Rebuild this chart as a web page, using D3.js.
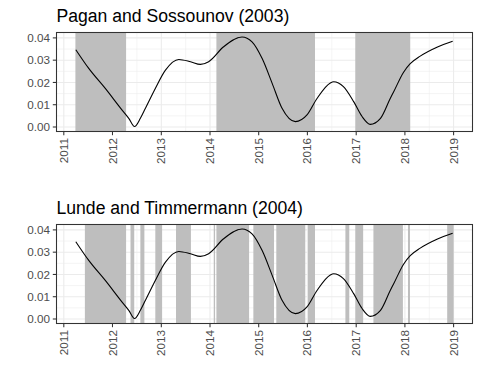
<!DOCTYPE html>
<html>
<head>
<meta charset="utf-8">
<script src="https://cdn.jsdelivr.net/npm/d3@7"></script>
<style>
  body { margin: 0; background: #fff; }
  text { font-family: "Liberation Sans", Arial, sans-serif; }
</style>
</head>
<body>
<div id="chart"></div>
<script>
// series
const lineDates = [
  "2011-04-01", "2011-07-07", "2011-11-08", "2012-03-13", "2012-05-02", "2012-06-14",
  "2012-07-28", "2012-09-04", "2012-11-17", "2013-02-01", "2013-05-12", "2013-08-08",
  "2013-10-21", "2013-12-22", "2014-04-13", "2014-08-29", "2014-11-12", "2015-01-27",
  "2015-04-12", "2015-06-25", "2015-10-03", "2015-12-29", "2016-03-13", "2016-06-21",
  "2016-07-16", "2016-09-27", "2016-12-13", "2017-02-14", "2017-04-16", "2017-07-02",
  "2017-09-13", "2017-10-08", "2017-12-22", "2018-02-10", "2018-04-26", "2018-08-29",
  "2018-12-25"
];
const lineValues = [
  0.0347, 0.0263, 0.0173, 0.0076, 0.0039, 0.0002,
  0.0039, 0.0084, 0.0173, 0.0255, 0.0303, 0.0293,
  0.0281, 0.0293, 0.0360, 0.0404, 0.0382, 0.0307,
  0.0196, 0.0084, 0.0024, 0.0054, 0.0128, 0.0198,
  0.0203, 0.0181, 0.0114, 0.0047, 0.0012, 0.0039,
  0.0128, 0.0157, 0.0246, 0.0284, 0.0318, 0.0358,
  0.0385
];

// shaded periods (start, end)
const paganStarts = ["2011-03-29", "2014-02-18", "2016-12-25"];
const paganEnds   = ["2012-04-12", "2016-02-27", "2018-02-10"];

const lundeStarts = [
  "2011-06-08", "2012-05-15", "2012-07-28", "2012-11-17", "2013-04-21",
  "2014-01-29", "2014-02-18", "2014-11-22", "2015-05-13", "2016-01-05",
  "2016-10-12", "2016-12-25", "2017-05-10", "2018-01-24", "2018-11-14"
];
const lundeEnds = [
  "2012-04-12", "2012-06-12", "2012-08-27", "2013-01-07", "2013-08-11",
  "2014-02-08", "2014-10-21", "2015-04-26", "2015-12-16", "2016-02-27",
  "2016-11-10", "2017-02-22", "2017-12-17", "2018-02-08", "2019-01-01"
];

const yearTicks = ["2011", "2012", "2013", "2014", "2015", "2016", "2017", "2018", "2019"];
const yTicks = [0, 0.01, 0.02, 0.03, 0.04];
const yMinor = [0.005, 0.015, 0.025, 0.035];
const titles = ["Pagan and Sossounov (2003)", "Lunde and Timmermann (2004)"];

const W = 480, H = 384;
const left = 56.5, right = 472.5, panelH = 99;
const panelTops = [32.5, 224.5];
const tickLen = 3.7, gap = 2.9;

const parseDate = d3.timeParse("%Y-%m-%d");
const parseYear = d3.timeParse("%Y");

const line = lineDates.map((d, i) => ({ date: parseDate(d), value: lineValues[i] }));
const shadeSets = [
  paganStarts.map((s, i) => ({ start: parseDate(s), end: parseDate(paganEnds[i]) })),
  lundeStarts.map((s, i) => ({ start: parseDate(s), end: parseDate(lundeEnds[i]) }))
];

// shared x domain, ggplot style 5% expansion
let allDates = line.map(d => d.date);
shadeSets.forEach(set => set.forEach(d => { allDates.push(d.start, d.end); }));
const ext = d3.extent(allDates);
const pad = (ext[1] - ext[0]) * 0.05;
const x = d3.scaleTime()
  .domain([new Date(+ext[0] - pad), new Date(+ext[1] + pad)])
  .range([left, right]);

const majorX = yearTicks.map(parseYear);
const minorX = d3.pairs(majorX).map(p => new Date((+p[0] + +p[1]) / 2));

const yMax = d3.max(lineValues);

const svg = d3.select("#chart").append("svg")
  .attr("width", W)
  .attr("height", H);

svg.append("rect").attr("width", W).attr("height", H).attr("fill", "#fff");

panelTops.forEach((top, p) => {
  const bottom = top + panelH;
  const y = d3.scaleLinear()
    .domain([-yMax * 0.05, yMax * 1.05])
    .range([bottom, top]);

  const g = svg.append("g");

  g.append("rect")
    .attr("x", left).attr("y", top)
    .attr("width", right - left).attr("height", panelH)
    .attr("fill", "#fff");

  // minor grid
  g.selectAll(".mx").data(minorX).enter().append("line")
    .attr("x1", d => x(d)).attr("x2", d => x(d))
    .attr("y1", top).attr("y2", bottom)
    .attr("stroke", "#ebebeb").attr("stroke-width", 0.55);
  g.selectAll(".my").data(yMinor).enter().append("line")
    .attr("x1", left).attr("x2", right)
    .attr("y1", d => y(d)).attr("y2", d => y(d))
    .attr("stroke", "#ebebeb").attr("stroke-width", 0.55);

  // major grid
  g.selectAll(".gx").data(majorX).enter().append("line")
    .attr("x1", d => x(d)).attr("x2", d => x(d))
    .attr("y1", top).attr("y2", bottom)
    .attr("stroke", "#ebebeb").attr("stroke-width", 1.07);
  g.selectAll(".gy").data(yTicks).enter().append("line")
    .attr("x1", left).attr("x2", right)
    .attr("y1", d => y(d)).attr("y2", d => y(d))
    .attr("stroke", "#ebebeb").attr("stroke-width", 1.07);

  // shaded periods
  g.selectAll(".shade").data(shadeSets[p]).enter().append("rect")
    .attr("x", d => x(d.start))
    .attr("y", top)
    .attr("width", d => x(d.end) - x(d.start))
    .attr("height", panelH)
    .attr("fill", "#bebebe");

  // series line
  const path = d3.line()
    .x(d => x(d.date))
    .y(d => y(d.value))
    .curve(d3.curveMonotoneX);
  g.append("path")
    .datum(line)
    .attr("fill", "none")
    .attr("stroke", "#000")
    .attr("stroke-width", 1.1)
    .attr("stroke-linejoin", "round")
    .attr("d", path);

  // border
  g.append("rect")
    .attr("x", left).attr("y", top)
    .attr("width", right - left).attr("height", panelH)
    .attr("fill", "none")
    .attr("stroke", "#333")
    .attr("stroke-width", 1.07);

  // y axis
  g.selectAll(".ty").data(yTicks).enter().append("line")
    .attr("x1", left - tickLen).attr("x2", left)
    .attr("y1", d => y(d)).attr("y2", d => y(d))
    .attr("stroke", "#333").attr("stroke-width", 1.07);
  g.selectAll(".ly").data(yTicks).enter().append("text")
    .attr("x", left - tickLen - gap)
    .attr("y", d => y(d))
    .attr("dy", "0.35em")
    .attr("text-anchor", "end")
    .attr("font-size", "11.7px")
    .attr("fill", "#4d4d4d")
    .text(d => d3.format(".2f")(d));

  // x axis
  g.selectAll(".tx").data(majorX).enter().append("line")
    .attr("x1", d => x(d)).attr("x2", d => x(d))
    .attr("y1", bottom).attr("y2", bottom + tickLen)
    .attr("stroke", "#333").attr("stroke-width", 1.07);
  g.selectAll(".lx").data(majorX).enter().append("text")
    .attr("transform", d => "translate(" + x(d) + "," + (bottom + tickLen + gap) + ") rotate(-90)")
    .attr("dy", "0.35em")
    .attr("text-anchor", "end")
    .attr("font-size", "11.7px")
    .attr("fill", "#4d4d4d")
    .text(d3.timeFormat("%Y"));

  // title
  g.append("text")
    .attr("x", left)
    .attr("y", top - 10.6)
    .attr("font-size", "17.6px")
    .attr("fill", "#000")
    .text(titles[p]);
});
</script>
</body>
</html>
